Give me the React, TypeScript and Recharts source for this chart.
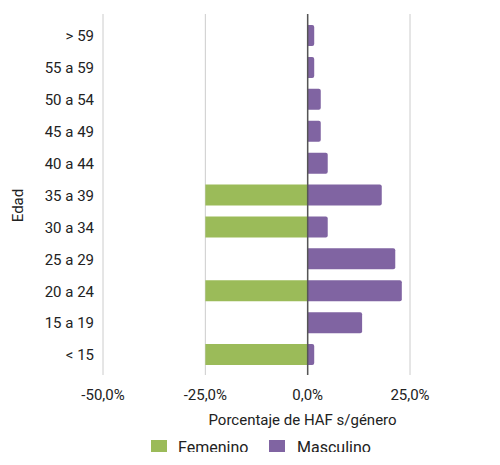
import React from "react";
import {
  BarChart,
  Bar,
  XAxis,
  YAxis,
  CartesianGrid,
  ReferenceLine,
  Legend,
  Label,
} from "recharts";

const edades = [
  "> 59",
  "55 a 59",
  "50 a 54",
  "45 a 49",
  "40 a 44",
  "35 a 39",
  "30 a 34",
  "25 a 29",
  "20 a 24",
  "15 a 19",
  "< 15",
];
// Femenino values are drawn to the left (negative)
const femenino = [0, 0, 0, 0, 0, -25, -25, 0, -25, 0, -25];
const masculino = [1.6, 1.6, 3.2, 3.2, 4.9, 18.1, 4.9, 21.4, 23.0, 13.3, 1.6];
const xTicks = [-50, -25, 0, 25];

const data = edades.map((edad, i) => ({
  edad,
  Femenino: femenino[i],
  Masculino: masculino[i],
}));

const GREEN = "#9BBB59";
const PURPLE = "#8064A2";
const FONT = "Roboto, 'Noto Sans', sans-serif";
const TEXT = "#222222";

const fmt = (v: number) => v.toFixed(1).replace(".", ",") + "%";

const LegendContent = () => (
  <div
    style={{
      position: "relative",
      width: 500,
      height: 24,
      fontFamily: FONT,
      fontSize: 16,
      color: TEXT,
    }}
  >
    <div style={{ position: "absolute", left: 151, top: 4, width: 16, height: 16, background: GREEN }} />
    <span style={{ position: "absolute", left: 178, top: 2, lineHeight: "19px", whiteSpace: "nowrap" }}>Femenino</span>
    <div style={{ position: "absolute", left: 269, top: 4, width: 16, height: 16, background: PURPLE }} />
    <span style={{ position: "absolute", left: 297, top: 2, lineHeight: "19px", whiteSpace: "nowrap" }}>Masculino</span>
  </div>
);

export default function App() {
  return (
    <div style={{ width: 500, height: 460, margin: -8, overflow: "hidden" }}>
      <BarChart
        width={500}
        height={460}
        data={data}
        layout="vertical"
        stackOffset="sign"
        margin={{ top: 14, right: 90, bottom: 0, left: 0 }}
      >
        <CartesianGrid horizontal={false} stroke="#cccccc" />
        <XAxis
          type="number"
          domain={[-50, 25]}
          ticks={xTicks}
          tickFormatter={fmt}
          axisLine={false}
          tickLine={false}
          tickSize={6}
          tickMargin={8}
          height={61}
          tick={{ fontSize: 15, fill: TEXT, fontFamily: FONT }}
        >
          <Label
            content={(props: any) => {
              const vb = props.viewBox || {};
              return (
                <text
                  x={vb.x + vb.width * 0.65}
                  y={vb.y + 50}
                  textAnchor="middle"
                  fontSize={15}
                  fill={TEXT}
                  fontFamily={FONT}
                >
                  Porcentaje de HAF s/género
                </text>
              );
            }}
          />
        </XAxis>
        <YAxis
          type="category"
          dataKey="edad"
          width={103}
          axisLine={false}
          tickLine={false}
          tickSize={6}
          tickMargin={3}
          padding={{ top: 6, bottom: 4 }}
          tick={{ fontSize: 15, fill: TEXT, fontFamily: FONT }}
        >
          <Label
            content={(props: any) => {
              const vb = props.viewBox || {};
              const x = 18;
              const y = vb.y + vb.height / 2 + 11;
              return (
                <text
                  x={x}
                  y={y}
                  transform={`rotate(-90, ${x}, ${y})`}
                  textAnchor="middle"
                  dominantBaseline="central"
                  fontSize={15}
                  fill={TEXT}
                  fontFamily={FONT}
                >
                  Edad
                </text>
              );
            }}
          />
        </YAxis>
        <Legend
          verticalAlign="bottom"
          content={<LegendContent />}
          wrapperStyle={{ left: 0, top: 436, bottom: "auto", width: 500, height: 24 }}
        />
        <Bar dataKey="Femenino" stackId="a" fill={GREEN} barSize={21} isAnimationActive={false} />
        <Bar
          dataKey="Masculino"
          stackId="a"
          fill={PURPLE}
          barSize={21}
          radius={[0, 2, 2, 0]}
          isAnimationActive={false}
        />
        <ReferenceLine x={0} stroke="#555555" strokeWidth={1.5} />
      </BarChart>
    </div>
  );
}
